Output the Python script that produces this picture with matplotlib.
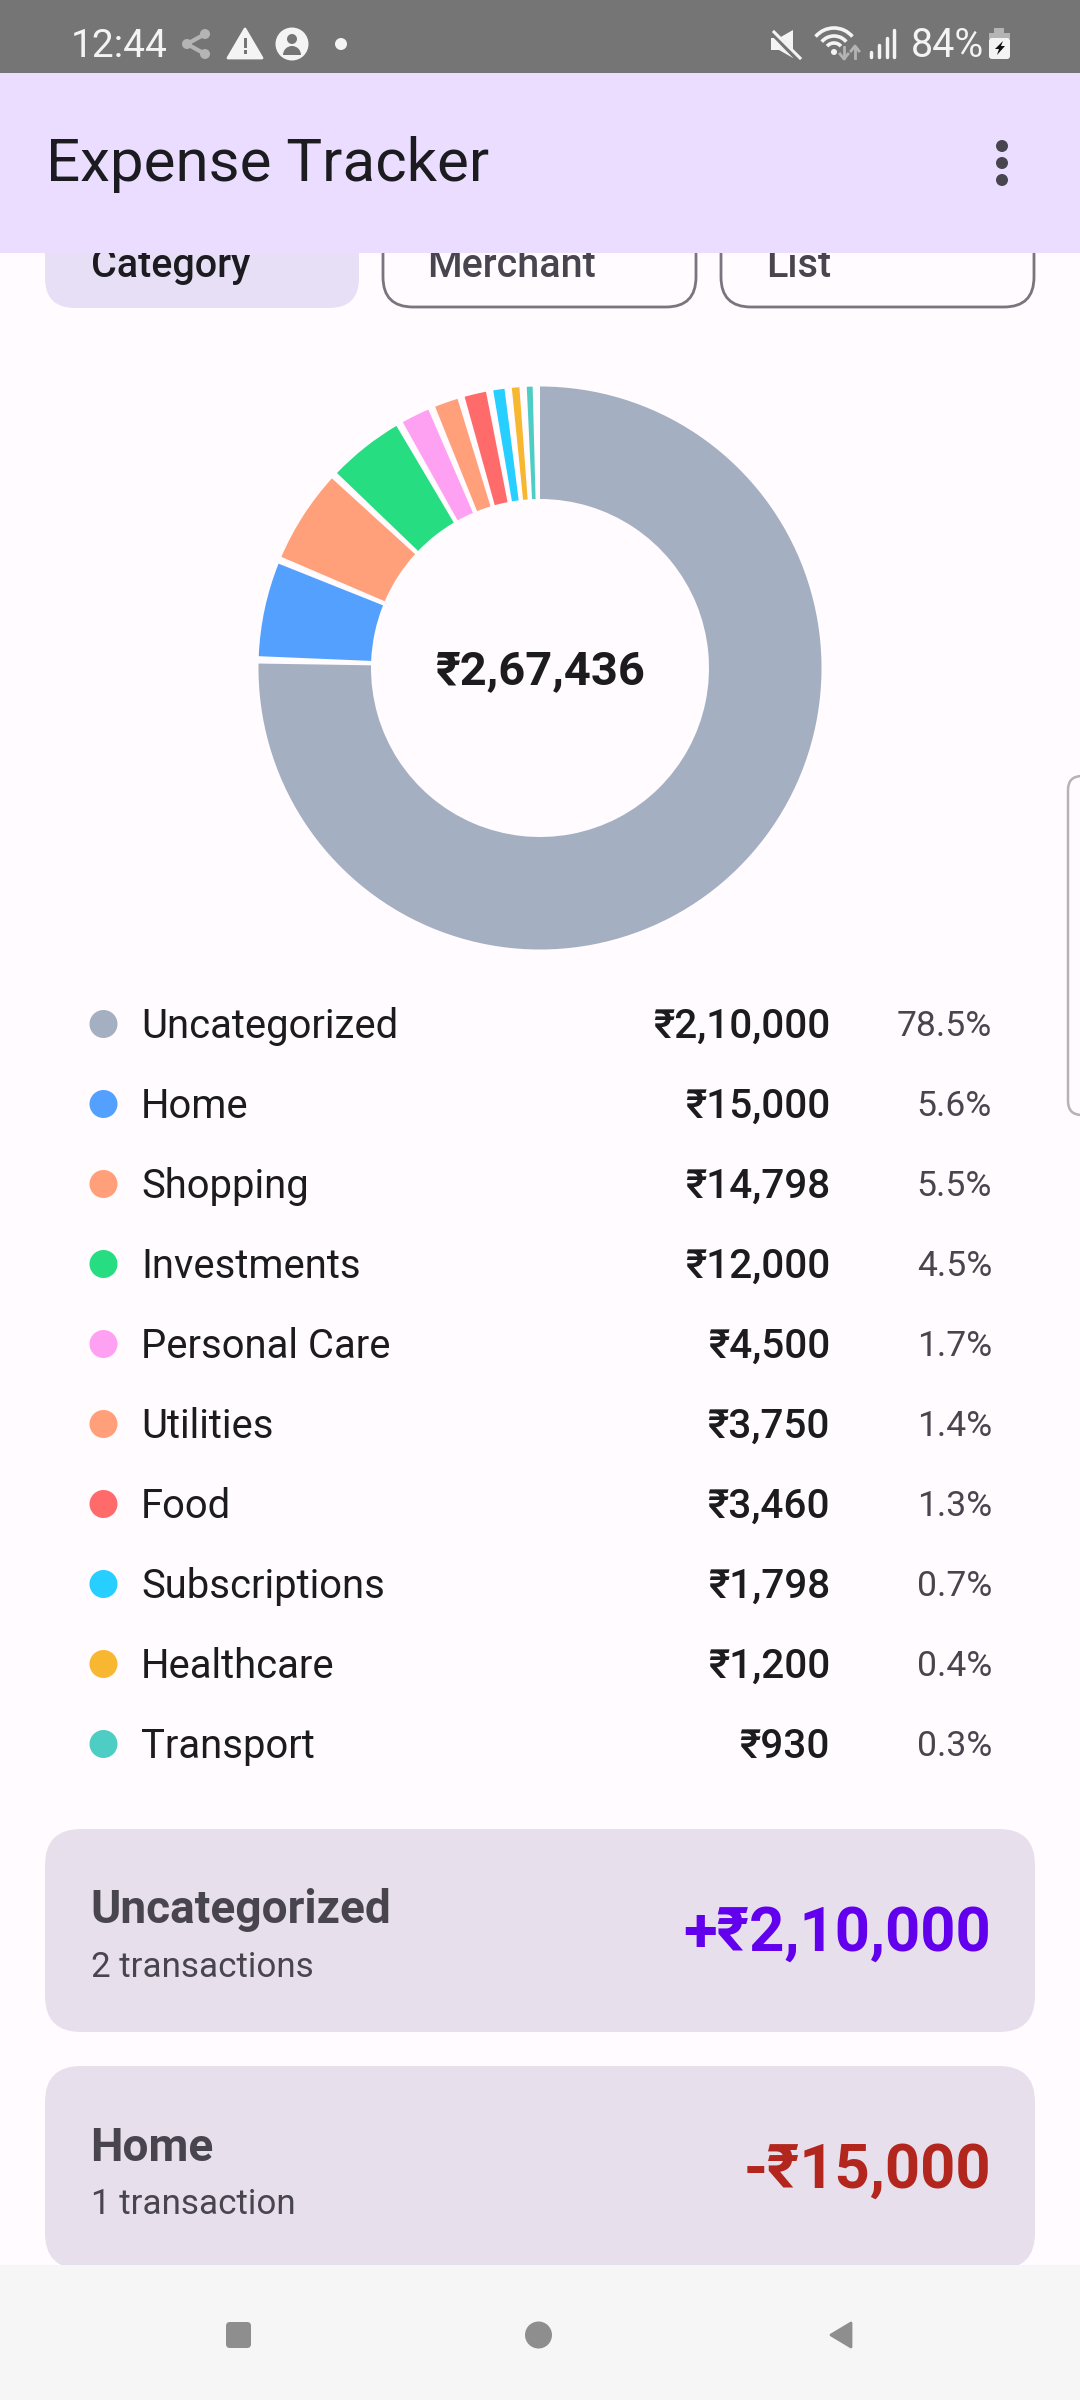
import matplotlib
matplotlib.use("Agg")
import matplotlib.pyplot as plt
from matplotlib.patches import Wedge, Circle, Rectangle, FancyBboxPatch, Polygon, Arc

plt.rcParams['font.family'] = ['Roboto', 'DejaVu Sans']

categories = ["Uncategorized", "Home", "Shopping", "Investments", "Personal Care",
              "Utilities", "Food", "Subscriptions", "Healthcare", "Transport"]
amounts = [210000, 15000, 14798, 12000, 4500, 3750, 3460, 1798, 1200, 930]
amount_labels = ["₹2,10,000", "₹15,000", "₹14,798", "₹12,000", "₹4,500",
                 "₹3,750", "₹3,460", "₹1,798", "₹1,200", "₹930"]
percents = ["78.5%", "5.6%", "5.5%", "4.5%", "1.7%", "1.4%", "1.3%", "0.7%", "0.4%", "0.3%"]
colors = ["#A4AFC1", "#54A0FF", "#FFA07A", "#26DE81", "#FFA1F2",
          "#FFA07A", "#FF6B6B", "#26CFFF", "#F7B731", "#4ECDC4"]
total_label = "₹2,67,436"
chips = ["Category", "Merchant", "List"]

BG = "#FFFBFE"
INK = "#1C1B1F"
MUTED = "#49454F"

fig = plt.figure(figsize=(10.8, 24), dpi=100, facecolor=BG)
ax = fig.add_axes([0, 0, 1, 1])
ax.set_xlim(0, 1080)
ax.set_ylim(2400, 0)
ax.axis("off")


def txt(x, y, s, px, color=INK, ha="left", weight="normal", z=3):
    # px = font size in image pixels
    return ax.text(x, y, s, fontsize=px * 0.72, color=color, ha=ha, va="baseline",
                   fontweight=weight, zorder=z)


def rbox(x0, y0, x1, y1, r, fc, ec="none", lw=0, z=1):
    ax.add_patch(FancyBboxPatch((x0 + r, y0 + r), x1 - x0 - 2 * r, y1 - y0 - 2 * r,
                                boxstyle="round,pad=%f,rounding_size=%f" % (r, r),
                                fc=fc, ec=ec, lw=lw, zorder=z))


# chips, clipped at the top by the app bar
rbox(45, 200, 359, 308, 30, "#E7DFF6", z=1)
rbox(383, 200, 696, 307, 30, BG, ec="#79747E", lw=2, z=1)
rbox(721, 200, 1034, 307, 30, BG, ec="#79747E", lw=2, z=1)
for x, s, c in zip([91, 427, 766], chips, [INK, MUTED, MUTED]):
    txt(x, 277, s, 39.5, c, weight="medium")

# donut, start at top going clockwise, sweeps share what the gaps leave
cx, cy, R, r = 540, 668, 281.5, 169
gap = 1.5
avail = 360 - gap * len(amounts)
angle = -90
for val, col in zip(amounts, colors):
    sweep = val / sum(amounts) * avail
    ax.add_patch(Wedge((cx, cy), R, angle, angle + sweep, width=R - r, fc=col, ec="none", zorder=2))
    angle += sweep + gap
txt(cx, 684, total_label, 47, INK, ha="center", weight="bold")

# legend rows
for i, (name, lab, pct, col) in enumerate(zip(categories, amount_labels, percents, colors)):
    y = 1024 + 80 * i
    ax.add_patch(Circle((103.5, y), 14, fc=col, ec="none", zorder=2))
    txt(141, y + 14, name, 40, INK)
    txt(830, y + 14, lab, 40.5, INK, ha="right", weight="medium")
    txt(992, y + 12, pct, 35.5, MUTED, ha="right")

# scrollbar handle on the right edge
rbox(1068, 776, 1100, 1115, 14, BG, ec="#B5B2B8", lw=1.8, z=1)

# summary cards
rbox(45, 1829, 1035, 2032, 36, "#E7E0EC")
txt(90, 1923, "Uncategorized", 46, MUTED, weight="bold")
txt(91, 1977, "2 transactions", 35, MUTED)
txt(991, 1951, "+₹2,10,000", 61.5, "#6200EE", ha="right", weight="bold")
rbox(45, 2066, 1035, 2269, 36, "#E7E0EC")
txt(90, 2161, "Home", 46, MUTED, weight="bold")
txt(91, 2214, "1 transaction", 35, MUTED)
txt(991, 2188, "-₹15,000", 61.5, "#B3261E", ha="right", weight="bold")

# nav bar
ax.add_patch(Rectangle((0, 2265), 1080, 135, fc="#F5F6F5", ec="none", zorder=5))
NAV = "#8E8E8E"
rbox(226, 2322, 251, 2348, 4, NAV, z=6)
ax.add_patch(Circle((538.5, 2335), 13.5, fc=NAV, ec="none", zorder=6))
ax.add_patch(Polygon([[831, 2335], [851, 2323], [851, 2347]], closed=True, fc=NAV, ec=NAV, lw=2,
                     joinstyle="round", zorder=6))

# app bar
ax.add_patch(Rectangle((0, 73), 1080, 180, fc="#EADDFF", ec="none", zorder=5))
txt(46, 181, "Expense Tracker", 60, INK, z=6)
for y in [146, 163, 180]:
    ax.add_patch(Circle((1002, y), 6, fc=MUTED, ec="none", zorder=6))

# status bar
ax.add_patch(Rectangle((0, 0), 1080, 73, fc="#757575", ec="none", zorder=5))
W = "#F4F4F4"
G = "#B4B4B4"
txt(71, 57, "12:44", 39, W, z=6)
txt(911, 57, "84%", 39.5, W, z=6)
# share icon
ax.plot([205, 187, 205], [34, 44, 54], color=G, lw=3, zorder=6)
for px_, py_ in [(205, 34), (187, 44), (205, 54)]:
    ax.add_patch(Circle((px_, py_), 5, fc=G, ec="none", zorder=6))
# warning triangle
ax.add_patch(Polygon([[245, 29], [228, 58], [262, 58]], closed=True, fc=W, ec=W, lw=2, joinstyle="round", zorder=6))
ax.add_patch(Rectangle((243.5, 38), 3, 10, fc="#757575", ec="none", zorder=7))
ax.add_patch(Rectangle((243.5, 50), 3, 3.5, fc="#757575", ec="none", zorder=7))
# account icon
ax.add_patch(Circle((292, 44), 16.5, fc=W, ec="none", zorder=6))
ax.add_patch(Circle((292, 39), 5, fc="#757575", ec="none", zorder=7))
ax.add_patch(Wedge((292, 55), 9, 180, 360, fc="#757575", ec="none", zorder=7))
ax.add_patch(Circle((341, 44), 6, fc=W, ec="none", zorder=6))
# mute icon
ax.add_patch(Polygon([[771, 38], [779, 38], [793, 30], [793, 58], [779, 50], [771, 50]], closed=True,
                     fc=W, ec="none", zorder=6))
ax.plot([770, 798], [30, 59], color="#757575", lw=4, zorder=7)
ax.plot([774, 800], [32, 58], color=W, lw=2.2, zorder=8)
# wifi icon
for rad in [24, 16, 9]:
    ax.add_patch(Arc((834, 52), rad * 2, rad * 2, theta1=220, theta2=320, color=W, lw=2.6, zorder=6))
ax.add_patch(Circle((834, 52), 3, fc=W, ec="none", zorder=6))
ax.plot([844, 844], [47, 58], color=G, lw=2, zorder=6)
ax.plot([840, 844, 848], [54, 59, 54], color=G, lw=2, zorder=6)
ax.plot([855, 855], [47, 58], color=G, lw=2, zorder=6)
ax.plot([851, 855, 859], [51, 46, 51], color=G, lw=2, zorder=6)
# signal bars
for x, top in zip([871, 879, 887, 894], [52, 45, 38, 30]):
    ax.plot([x, x], [top, 57], color=W, lw=2.5, solid_capstyle="round", zorder=6)
# battery
ax.add_patch(Rectangle((994, 28), 10, 6, fc=G, ec="none", zorder=6))
ax.add_patch(Rectangle((989, 33), 21, 6, fc=G, ec="none", zorder=6))
rbox(989, 38, 1010, 59, 3, W, z=6)
ax.add_patch(Polygon([[1003, 41], [995, 49], [999, 49], [997, 55], [1005, 46], [1001, 46]], closed=True,
                     fc="#111111", ec="none", zorder=7))

fig.savefig("out.png", dpi=100, facecolor=BG)
